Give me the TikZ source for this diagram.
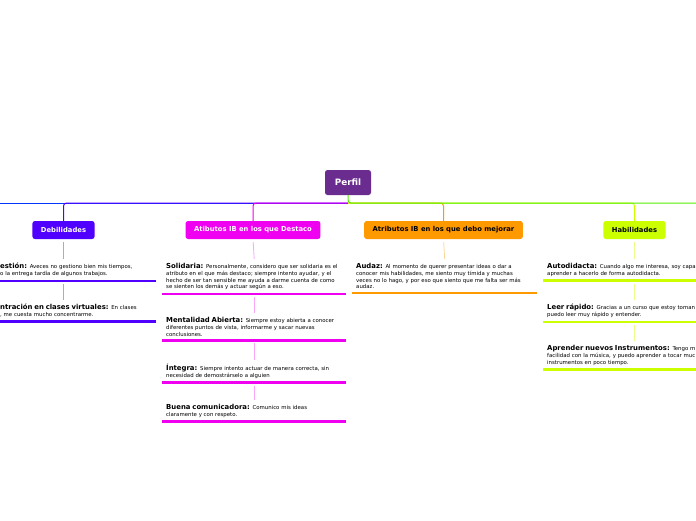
\documentclass[tikz,border=0pt]{standalone}
\usepackage{fontspec}
\setmainfont{DejaVu Sans}
\definecolor{perfilc}{HTML}{6A2C8F}
\definecolor{debilc}{HTML}{5000FF}
\definecolor{destacoc}{HTML}{F000F0}
\definecolor{mejorarc}{HTML}{FF9900}
\definecolor{habilc}{HTML}{CCFF00}
\definecolor{ramac}{HTML}{55EE00}
\definecolor{ladoc}{HTML}{0038FF}
\newcommand{\cabeza}[1]{{\fontsize{6.9}{6.8}\selectfont\bfseries #1}}
\tikzset{
  topic/.style={rounded corners=2.5pt, minimum height=18pt, inner xsep=8.5pt,
    font=\bfseries\fontsize{6.8}{7}\selectfont},
  item/.style={anchor=north west, inner xsep=4pt, inner ysep=4pt, text width=#1,
    align=left, font=\fontsize{5.4}{6.8}\selectfont},
  uline/.style={line width=2.5pt, #1},
  vlink/.style={line width=0.8pt, #1, shorten <=3pt},
  branch/.style={line width=1pt, rounded corners=3pt, #1}
}
\begin{document}
\begin{tikzpicture}[x=1pt,y=-1pt]
  \useasboundingbox (0,0) rectangle (696,520);
  \clip (0,0) rectangle (696,520);
  \fill[white] (0,0) rectangle (696,520);

  % centro
  \node[topic, fill=perfilc, text=white, minimum width=46pt, minimum height=25pt,
    font=\bfseries\fontsize{8.8}{9}\selectfont] (perfil) at (348,182.5) {Perfil};
  \coordinate (hub) at (348,203);
  \coordinate (oeste) at (-10,203);
  \coordinate (este) at (710,203);

  % ramas
  \node[topic, fill=debilc, text=white] (deb) at (63.5,230) {Debilidades};
  \node[topic, fill=destacoc, text=white] (des) at (253,230) {Atibutos IB en los que Destaco};
  \node[topic, fill=mejorarc, text=black] (mej) at (443.5,230) {Atributos IB en los que debo mejorar};
  \node[topic, fill=habilc, text=black] (hab) at (634.5,230) {Habilidades};

  \draw[branch=ladoc] (hub) -- (oeste);
  \draw[branch=debilc] (hub) -| (deb.north);
  \draw[branch=destacoc] (hub) -| (des.north);
  \draw[branch=mejorarc] (hub) -| (mej.north);
  \draw[branch=habilc] (hub) -| (hab.north);
  \draw[branch=ramac] (perfil.south) -- (hub) -- (este);

  % Debilidades
  \node[item=152pt] (d1) at (-4,259) {\cabeza{estión:} Aveces no gestiono bien mis tiempos,\\o la entrega tardía de algunos trabajos.};
  \node[item=152pt] (d2) at (-4,300) {\cabeza{ntración en clases virtuales:} En clases\\, me cuesta mucho concentrarme.};
  \draw[vlink=debilc!40] (deb.south) -- (deb.south |- d1.north);
  \draw[vlink=debilc!40] (deb.south |- d1.south) -- (deb.south |- d2.north);
  \foreach \n in {d1,d2}
    \draw[uline=debilc] (\n.south west) -- (\n.south east);

  % Destaco
  \node[item=176pt] (s1) at (162,259) {\cabeza{Solidaria:} Personalmente, considero que ser solidaria es el\\atributo en el que más destaco; siempre intento ayudar, y el\\hecho de ser tan sensible me ayuda a darme cuenta de como\\se sienten los demás y actuar según a eso.};
  \node[item=176pt] (s2) at (162,313) {\cabeza{Mentalidad Abierta:} Siempre estoy abierta a conocer\\diferentes puntos de vista, informarme y sacar nuevas\\conclusiones.};
  \node[item=176pt] (s3) at (162,360) {\cabeza{Íntegra:} Siempre intento actuar de manera correcta, sin\\necesidad de demostrárselo a alguien};
  \node[item=176pt] (s4) at (162,400) {\cabeza{Buena comunicadora:} Comunico mis ideas\\claramente y con respeto.};
  \draw[vlink=destacoc!35] (des.south) -- (s1.north);
  \draw[vlink=destacoc!35] (s1.south) -- (s2.north);
  \draw[vlink=destacoc!35] (s2.south) -- (s3.north);
  \draw[vlink=destacoc!35] (s3.south) -- (s4.north);
  \foreach \n in {s1,s2,s3,s4}
    \draw[uline=destacoc] (\n.south west) -- (\n.south east);

  % Mejorar
  \node[item=177pt] (a1) at (352,259) {\cabeza{Audaz:} Al momento de querer presentar ideas o dar a\\conocer mis habilidades, me siento muy tímida y muchas\\veces no lo hago, y por eso que siento que me falta ser más\\audaz.};
  \draw[vlink=mejorarc!40] (mej.south) -- (a1.north);
  \draw[uline=mejorarc] (a1.south west) -- (a1.south east);

  % Habilidades
  \node[item=200pt] (h1) at (543,259) {\cabeza{Autodidacta:} Cuando algo me interesa, soy capa\\aprender a hacerlo de forma autodidacta.};
  \node[item=200pt] (h2) at (543,300) {\cabeza{Leer rápido:} Gracias a un curso que estoy toman\\puedo leer muy rápido y entender.};
  \node[item=200pt] (h3) at (543,341) {\cabeza{Aprender nuevos Instrumentos:} Tengo m\\facilidad con la música, y puedo aprender a tocar muc\\instrumentos en poco tiempo.};
  \draw[vlink=habilc!45] (hab.south) -- (hab.south |- h1.north);
  \draw[vlink=habilc!45] (hab.south |- h1.south) -- (hab.south |- h2.north);
  \draw[vlink=habilc!45] (hab.south |- h2.south) -- (hab.south |- h3.north);
  \foreach \n in {h1,h2,h3}
    \draw[uline=habilc] (\n.south west) -- (\n.south east);
\end{tikzpicture}
\end{document}
